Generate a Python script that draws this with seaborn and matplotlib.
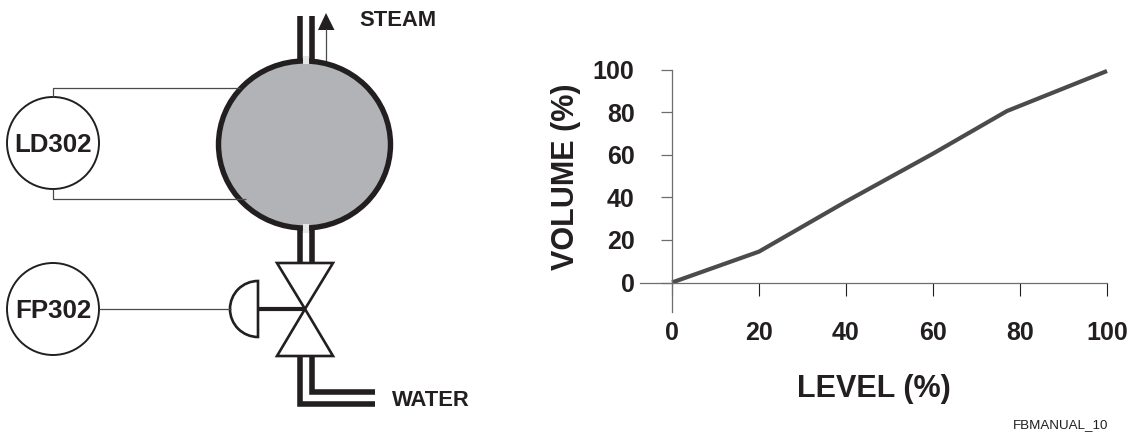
import matplotlib
matplotlib.use("Agg")
import matplotlib.pyplot as plt
from matplotlib.patches import Circle, Ellipse, Polygon, Wedge
import pandas as pd
import seaborn as sns

level = [0, 20, 40, 60, 77, 100]
volume = [0, 14.5, 38, 60.5, 80.5, 99.3]
tick_values = [0, 20, 40, 60, 80, 100]

W, H = 1137, 434
INK = "#231f20"
LINE = "#4b4b4d"
AXIS = "#6d6e70"

sns.set_theme(style="white")
plt.rcParams["font.family"] = ["Liberation Sans", "DejaVu Sans"]

fig = plt.figure(figsize=(W / 100, H / 100), dpi=100)

# schematic on the left, drawn in pixel coordinates
sk = fig.add_axes([0, 0, 1, 1])
sk.set_xlim(0, W)
sk.set_ylim(H, 0)
sk.axis("off")

# signal wires
wire = dict(color="#4a4a4a", lw=0.9, solid_capstyle="butt")
sk.plot([53, 53, 240], [97, 88, 88], **wire)
sk.plot([53, 53, 246], [189, 199, 199], **wire)
sk.plot([99, 231], [309, 309], **wire)

# drum
sk.add_patch(Ellipse((304.5, 144.5), 172, 167, fc="#b1b3b6", ec=INK, lw=3.9))

# pipes
pipe = dict(color=INK, lw=4.0, solid_capstyle="butt", solid_joinstyle="miter")
gap = dict(color="#e6e7e8", lw=4.4, solid_capstyle="butt")
sk.plot([305.5, 305.5], [56, 64], **gap)
sk.plot([305.5, 305.5], [224, 233], **gap)
for x in (300, 311.5):
    sk.plot([x, x], [16, 61], **pipe)
    sk.plot([x, x], [229, 263], **pipe)
sk.plot([300, 300, 375], [356, 404, 404], **pipe)
sk.plot([311.5, 311.5, 375], [356, 392, 392], **pipe)

# steam arrow
sk.plot([326, 326], [60, 29], color="#4a4a4a", lw=0.9)
sk.add_patch(Polygon([(318, 30), (334.5, 30), (326, 13)], fc=INK, ec="none"))

# valve
valve = dict(fc="white", ec=INK, lw=1.9, joinstyle="miter")
sk.add_patch(Polygon([(277, 263), (333, 263), (305, 309)], **valve))
sk.add_patch(Polygon([(305, 309), (277, 356), (333, 356)], **valve))
sk.plot([258, 305], [309, 309], color=INK, lw=3.0, solid_capstyle="butt")
sk.add_patch(Wedge((258, 309), 28, 90, 270, fc="white", ec=INK, lw=1.9))

# instruments
for cy, name in ((143, "LD302"), (309, "FP302")):
    sk.add_patch(Circle((53, cy), 46, fc="white", ec=INK, lw=1.4))
    sk.text(53, cy, name, ha="center", va="center_baseline", fontsize=18.6,
            fontweight="bold", color=INK)

sk.text(359, 18, "STEAM", ha="left", va="center_baseline", fontsize=15.8,
        fontweight="bold", color=INK)
sk.text(392, 398, "WATER", ha="left", va="center_baseline", fontsize=15.8,
        fontweight="bold", color=INK)
sk.text(1013, 423.5, "FBMANUAL_10", ha="left", va="center_baseline", fontsize=9.6,
        color=INK)

# volume / level curve
x0, x1 = 640, 1107
y_top, y_bot = 69.5, 312
ax = fig.add_axes([x0 / W, 1 - y_bot / H, (x1 - x0) / W, (y_bot - y_top) / H])
ax.patch.set_alpha(0)

df = pd.DataFrame({"level": level, "volume": volume})
sns.lineplot(data=df, x="level", y="volume", ax=ax, color=LINE, lw=3.0,
             clip_on=False, solid_capstyle="butt", solid_joinstyle="miter")

per_x = 100 / (1107 - 672)
per_y = 100 / (282.5 - y_top)
ax.set_xlim(-(672 - x0) * per_x, 100)
ax.set_ylim(-(y_bot - 282.5) * per_y, 100)

sns.despine(ax=ax)
ax.spines["left"].set_position(("data", 0))
ax.spines["bottom"].set_position(("data", 0))
for side in ("left", "bottom"):
    ax.spines[side].set_color(AXIS)
    ax.spines[side].set_linewidth(0.9)

ax.set_xticks(tick_values)
ax.set_yticks(tick_values)
ax.tick_params(axis="x", bottom=True, length=9.5, width=0.8, color=INK, pad=18,
               labelsize=18, labelcolor=INK)
ax.tick_params(axis="y", left=True, length=8, width=0.9, color=AXIS, pad=19,
               labelsize=18, labelcolor=INK)
for t in ax.get_xticklabels() + ax.get_yticklabels():
    t.set_fontweight("bold")

ax.set_xlabel("LEVEL (%)", fontsize=22, fontweight="bold", color=INK, va="center")
ax.xaxis.set_label_coords((874 - x0) / (x1 - x0), 1 - (389 - y_top) / (y_bot - y_top))
ax.set_ylabel("VOLUME (%)", fontsize=22, fontweight="bold", color=INK, va="center")
ax.yaxis.set_label_coords((566 - x0) / (x1 - x0), 1 - (177 - y_top) / (y_bot - y_top))

fig.savefig("out.png", dpi=100, facecolor="white")
